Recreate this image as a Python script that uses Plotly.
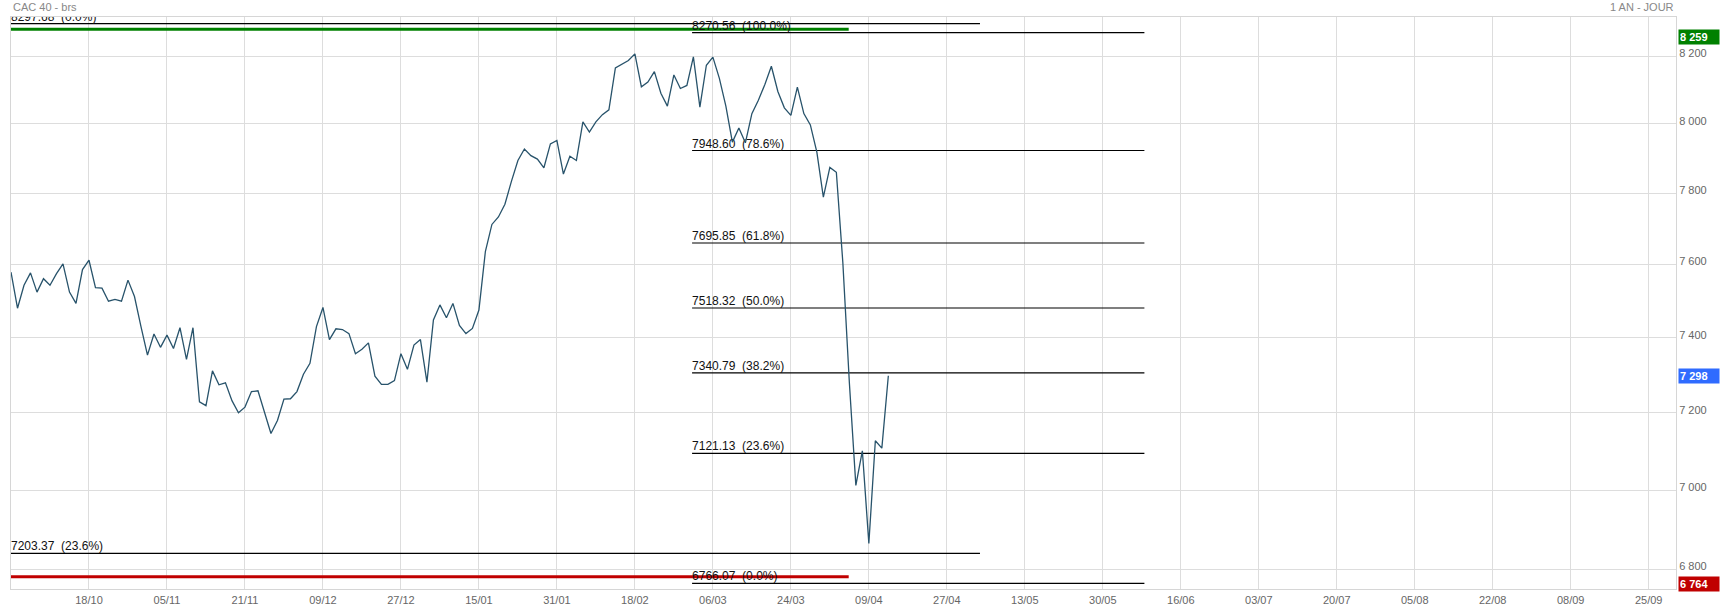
import numpy as np
import plotly.graph_objects as go

# ---------------- data ----------------
close = [
    7579, 7480, 7543, 7577, 7524, 7561, 7543, 7575, 7602, 7524,
    7493, 7586, 7612, 7536, 7535, 7499, 7504, 7499, 7557, 7512,
    7430, 7353, 7410, 7374, 7407, 7371, 7427, 7342, 7427, 7229,
    7219, 7311, 7274, 7279, 7232, 7200, 7215, 7256, 7258, 7200,
    7146, 7180, 7236, 7237, 7256, 7302, 7331, 7430, 7482, 7395,
    7424, 7422, 7411, 7357, 7369, 7386, 7297, 7275, 7275, 7285,
    7357, 7315, 7380, 7395, 7281, 7448, 7489, 7454, 7493, 7433,
    7411, 7425, 7475, 7637, 7712, 7733, 7769, 7834, 7894, 7927,
    7908, 7898, 7873, 7942, 7952, 7855, 7906, 7894, 8006, 7976,
    8006, 8027, 8041, 8165, 8175, 8187, 8207, 8109, 8123, 8154,
    8090, 8052, 8144, 8104, 8113, 8198, 8049, 8173, 8197, 8134,
    8052, 7947, 7988, 7945, 8030, 8069, 8116, 8170, 8095, 8047,
    8025, 8108, 8030, 7997, 7918, 7789, 7874, 7860, 7605, 7280,
    7012, 7101, 6865, 7127, 7108, 7298,
]
session = list(range(len(close)))  # trading-day index

x_tick_index = [12, 24, 36, 48, 60, 72, 84, 96, 108, 120, 132,
                144, 156, 168, 180, 192, 204, 216, 228, 240, 252]
x_tick_labels = ["18/10", "05/11", "21/11", "09/12", "27/12", "15/01", "31/01",
                 "18/02", "06/03", "24/03", "09/04", "27/04", "13/05", "30/05",
                 "16/06", "03/07", "20/07", "05/08", "22/08", "08/09", "25/09"]

y_tick_values = [6800, 7000, 7200, 7400, 7600, 7800, 8000, 8200]
y_tick_labels = ["6 800", "7 000", "7 200", "7 400", "7 600", "7 800", "8 000", "8 200"]

# Fibonacci retracement (left set, descending)
fib_left_pct = [0.0, 23.6]
fib_left_val = [8297.68, 7203.37]
fib_left_span = [0, 149.1]

# Fibonacci retracement (right set, ascending)
fib_right_pct = [100.0, 78.6, 61.8, 50.0, 38.2, 23.6, 0.0]
fib_right_val = [8270.56, 7948.60, 7695.85, 7518.32, 7340.79, 7121.13, 6766.07]
fib_right_span = [104.8, 174.4]

# period high / low marker lines
extreme_line_val = [8281, 6782]
extreme_line_color = ["#008000", "#c00000"]
extreme_span = [0, 128.9]

# right-side value flags
flag_values = [8259, 7298, 6764]
flag_colors = ["#008000", "#2f6bff", "#c00000"]

# ---------------- helpers ----------------
def fib_line_levels(pcts, vals):
    pa, pb = pcts[0], pcts[1]
    va, vb = vals[0], vals[1]
    slope = (vb - va) / (pb - pa)
    v0 = va - pa * slope
    v100 = v0 + 100 * slope
    l0, l100 = np.log10(v0), np.log10(v100)
    return [10 ** (l0 + p / 100.0 * (l100 - l0)) for p in pcts]


def fmt_label(v, p):
    return f"{v:.2f}\u00a0 ({p:.1f}%)"


FONT = "Liberation Sans, Arial, sans-serif"
fig = go.Figure()

# extreme lines (thick green / red)
for v, c in zip(extreme_line_val, extreme_line_color):
    fig.add_trace(go.Scatter(x=extreme_span, y=[v, v], mode="lines",
                             line=dict(color=c, width=3), hoverinfo="skip",
                             showlegend=False))

# fibonacci sets
for pcts, vals, span in [(fib_left_pct, fib_left_val, fib_left_span),
                         (fib_right_pct, fib_right_val, fib_right_span)]:
    ys = fib_line_levels(pcts, vals)
    lx, ly = [], []
    for y in ys:
        lx += [span[0], span[1], None]
        ly += [y, y, None]
    fig.add_trace(go.Scatter(x=lx, y=ly, mode="lines",
                             line=dict(color="#000000", width=1.2),
                             hoverinfo="skip", showlegend=False))
    fig.add_trace(go.Scatter(x=[span[0]] * len(ys), y=ys, mode="text",
                             text=[fmt_label(v, p) for v, p in zip(vals, pcts)],
                             textposition="top right",
                             textfont=dict(family=FONT, size=12, color="#111111"),
                             hoverinfo="skip", showlegend=False))

# price line
fig.add_trace(go.Scatter(x=session, y=close, mode="lines",
                         line=dict(color="#28536b", width=1.3),
                         showlegend=False, name="CAC 40"))

# value flags on the right axis
for v, c in zip(flag_values, flag_colors):
    fig.add_annotation(xref="paper", x=1, xanchor="left", xshift=2,
                       yref="y", y=np.log10(v), yanchor="middle",
                       text="<b>" + f"{v:,}".replace(",", " ") + "</b>",
                       showarrow=False, bgcolor=c, width=38, height=12,
                       align="left", borderpad=1,
                       font=dict(family=FONT, size=11, color="white"))

fig.add_annotation(xref="paper", yref="paper", x=0, y=1, xanchor="left",
                   yanchor="bottom", yshift=2, text="CAC 40 - brs",
                   showarrow=False, font=dict(family=FONT, size=11, color="#888888"))
fig.add_annotation(xref="paper", yref="paper", x=1, y=1, xanchor="right",
                   yanchor="bottom", yshift=2, text="1 AN - JOUR",
                   showarrow=False, font=dict(family=FONT, size=11, color="#888888"))

fig.update_layout(
    width=1720, height=610,
    margin=dict(l=11, r=44, t=17, b=21, autoexpand=False),
    paper_bgcolor="white", plot_bgcolor="white",
    font=dict(family=FONT),
    xaxis=dict(range=[0, 256.2], tickmode="array", tickvals=x_tick_index,
               ticktext=x_tick_labels, showgrid=True, gridcolor="#dddddd",
               gridwidth=1, showline=True, mirror=True, linecolor="#d6d6d6",
               ticks="", zeroline=False, ticklabelstandoff=1, automargin=False,
               tickfont=dict(family=FONT, size=11, color="#666666")),
    yaxis=dict(type="log", range=[np.log10(6752), np.log10(8318)], side="right",
               tickmode="array", tickvals=y_tick_values, ticktext=y_tick_labels,
               showgrid=True, gridcolor="#dddddd", gridwidth=1, showline=True,
               mirror=True, linecolor="#d6d6d6", ticks="", zeroline=False,
               ticklabelshift=-3, automargin=False,
               tickfont=dict(family=FONT, size=11, color="#666666")),
)

fig.write_html("out.html", config={"displayModeBar": False},
               post_script="document.body.style.margin='0';")
